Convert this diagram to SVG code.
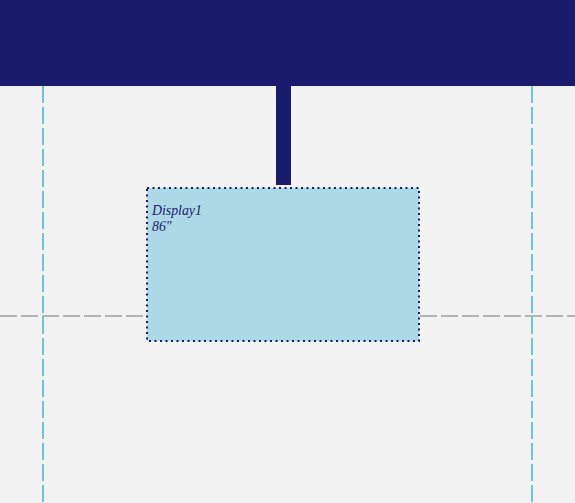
<svg xmlns="http://www.w3.org/2000/svg" width="575" height="503" viewBox="0 0 575 503">
<style>
.guide-v{stroke:#6cc6d8;stroke-width:2;stroke-dasharray:17 4;fill:none}
.guide-h{stroke:#b4b4b4;stroke-width:2;stroke-dasharray:17 4;fill:none}
.lbl{font-family:"Liberation Serif",serif;font-style:italic;font-size:13.8px;fill:#1b1b6e}
</style>
<rect x="0" y="0" width="575" height="503" fill="#f2f2f2"/>
<g id="connectors">
<line class="guide-h" x1="0" y1="316" x2="575" y2="316"/>
<line class="guide-v" x1="43" y1="86" x2="43" y2="503"/>
<line class="guide-v" x1="532" y1="86" x2="532" y2="503"/>
</g>
<g id="wall">
<rect x="0" y="0" width="575" height="86" fill="#1b1b6e"/>
</g>
<g id="mount">
<rect x="276" y="86" width="15" height="99" fill="#1b1b6e"/>
</g>
<g id="display1">
<rect x="147" y="188" width="272" height="153" fill="#add8e6" stroke="#1b1b6e" stroke-width="2" stroke-dasharray="2 3.5"/>
<text class="lbl" x="152" y="215">Display1</text>
<text class="lbl" x="152" y="231">86"</text>
</g>
</svg>
